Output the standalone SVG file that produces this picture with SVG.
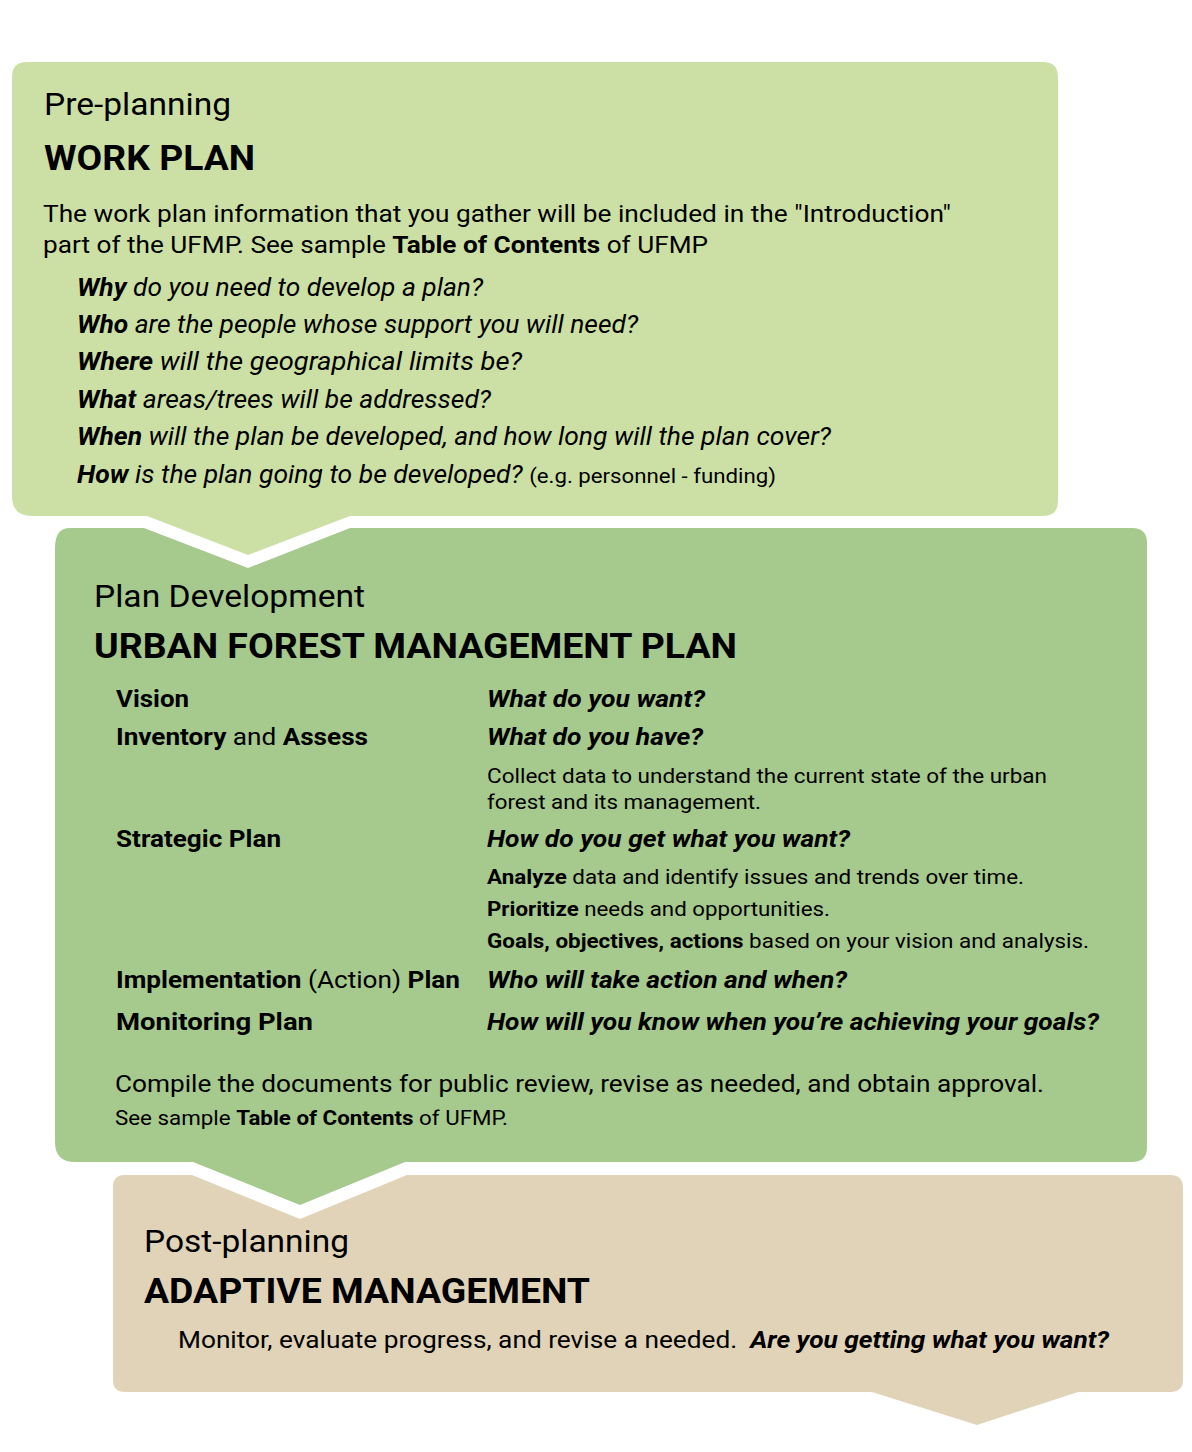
<svg xmlns="http://www.w3.org/2000/svg" width="1192" height="1452" viewBox="0 0 1192 1452">
<style>
text { font-family: Roboto, "Liberation Sans", sans-serif; fill: #000; }
.sub { font-size: 32px; }
.ttl { font-size: 35px; font-weight: bold; }
.body { font-size: 24.5px; }
.q { font-size: 25px; font-style: italic; }
.c2 { font-size: 24px; }
.small { font-size: 20px; }
.b { font-weight: bold; }
.i { font-style: italic; }
.n { font-weight: normal; font-style: normal; }
.s1 { fill: #cce0a6; }
.s2 { fill: #a6c98d; }
.s3 { fill: #e0d3b7; }
</style>
<rect width="1192" height="1452" fill="#ffffff"/>

<g id="work-plan">
<path class="s1" d="M27,62 H1043 Q1058,62 1058,77 V501 Q1058,516 1043,516 H350 L248,555 L147,516 H32 Q12,516 12,496 V77 Q12,62 27,62 Z"/>
<text class="sub" x="44" y="115" textLength="187" lengthAdjust="spacingAndGlyphs">Pre-planning</text>
<text class="ttl" x="44" y="170" textLength="211" lengthAdjust="spacingAndGlyphs">WORK PLAN</text>
<text class="body" x="43" y="222" textLength="908" lengthAdjust="spacingAndGlyphs">The work plan information that you gather will be included in the "Introduction"</text>
<text class="body" x="43" y="253" textLength="665" lengthAdjust="spacingAndGlyphs">part of the UFMP. See sample <tspan class="b">Table of Contents</tspan> of UFMP</text>
<text class="q" x="77" y="296" textLength="406" lengthAdjust="spacingAndGlyphs"><tspan class="b">Why</tspan> do you need to develop a plan?</text>
<text class="q" x="77" y="333" textLength="561" lengthAdjust="spacingAndGlyphs"><tspan class="b">Who</tspan> are the people whose support you will need?</text>
<text class="q" x="77" y="370" textLength="445" lengthAdjust="spacingAndGlyphs"><tspan class="b">Where</tspan> will the geographical limits be?</text>
<text class="q" x="77" y="408" textLength="414" lengthAdjust="spacingAndGlyphs"><tspan class="b">What</tspan> areas/trees will be addressed?</text>
<text class="q" x="77" y="445" textLength="754" lengthAdjust="spacingAndGlyphs"><tspan class="b">When</tspan> will the plan be developed, and how long will the plan cover?</text>
<text class="q" x="77" y="483" textLength="699" lengthAdjust="spacingAndGlyphs"><tspan class="b">How</tspan> is the plan going to be developed? <tspan class="n" font-size="21">(e.g. personnel - funding)</tspan></text>
</g>

<g id="plan-development">
<path class="s2" d="M70,528 H144 L248,568 L350,528 H1132 Q1147,528 1147,543 V1147 Q1147,1162 1132,1162 H405 L300,1205 L193,1162 H75 Q55,1162 55,1142 V548 Q55,528 70,528 Z"/>
<text class="sub" x="94" y="607" textLength="271" lengthAdjust="spacingAndGlyphs">Plan Development</text>
<text class="ttl" x="94" y="658" textLength="643" lengthAdjust="spacingAndGlyphs">URBAN FOREST MANAGEMENT PLAN</text>
<text class="c2 b" x="116" y="707" textLength="73" lengthAdjust="spacingAndGlyphs">Vision</text>
<text class="c2" x="116" y="745" textLength="252" lengthAdjust="spacingAndGlyphs"><tspan class="b">Inventory</tspan> and <tspan class="b">Assess</tspan></text>
<text class="c2 b" x="116" y="847" textLength="165" lengthAdjust="spacingAndGlyphs">Strategic Plan</text>
<text class="c2" x="116" y="988" textLength="344" lengthAdjust="spacingAndGlyphs"><tspan class="b">Implementation</tspan> (Action) <tspan class="b">Plan</tspan></text>
<text class="c2 b" x="116" y="1030" textLength="197" lengthAdjust="spacingAndGlyphs">Monitoring Plan</text>
<text class="c2 b i" x="487" y="707" textLength="218" lengthAdjust="spacingAndGlyphs">What do you want?</text>
<text class="c2 b i" x="487" y="745" textLength="216" lengthAdjust="spacingAndGlyphs">What do you have?</text>
<text class="small" x="487" y="783" textLength="560" lengthAdjust="spacingAndGlyphs">Collect data to understand the current state of the urban</text>
<text class="small" x="487" y="809" textLength="274" lengthAdjust="spacingAndGlyphs">forest and its management.</text>
<text class="c2 b i" x="487" y="847" textLength="363" lengthAdjust="spacingAndGlyphs">How do you get what you want?</text>
<text class="small" x="487" y="884" textLength="537" lengthAdjust="spacingAndGlyphs"><tspan class="b">Analyze</tspan> data and identify issues and trends over time.</text>
<text class="small" x="487" y="916" textLength="343" lengthAdjust="spacingAndGlyphs"><tspan class="b">Prioritize</tspan> needs and opportunities.</text>
<text class="small" x="487" y="948" textLength="602" lengthAdjust="spacingAndGlyphs"><tspan class="b">Goals, objectives, actions</tspan> based on your vision and analysis.</text>
<text class="c2 b i" x="487" y="988" textLength="360" lengthAdjust="spacingAndGlyphs">Who will take action and when?</text>
<text class="c2 b i" x="487" y="1030" textLength="612" lengthAdjust="spacingAndGlyphs">How will you know when you’re achieving your goals?</text>
<text class="body" x="115" y="1092" font-size="24" textLength="929" lengthAdjust="spacingAndGlyphs">Compile the documents for public review, revise as needed, and obtain approval.</text>
<text class="small" x="115" y="1125" font-size="19.5" textLength="393" lengthAdjust="spacingAndGlyphs">See sample <tspan class="b">Table of Contents</tspan> of UFMP.</text>
</g>

<g id="adaptive-management">
<path class="s3" d="M125,1175 H192 L300,1219 L407,1175 H1170 Q1183,1175 1183,1188 V1380 Q1183,1392 1170,1392 H1078 L977,1425 L872,1392 H125 Q113,1392 113,1380 V1187 Q113,1175 125,1175 Z"/>
<text class="sub" x="144" y="1252" textLength="205" lengthAdjust="spacingAndGlyphs">Post-planning</text>
<text class="ttl" x="144" y="1303" textLength="446" lengthAdjust="spacingAndGlyphs">ADAPTIVE MANAGEMENT</text>
<text class="c2" x="178" y="1348" font-size="24.5" textLength="931" lengthAdjust="spacingAndGlyphs" xml:space="preserve">Monitor, evaluate progress, and revise a needed.  <tspan class="b i">Are you getting what you want?</tspan></text>
</g>
</svg>
